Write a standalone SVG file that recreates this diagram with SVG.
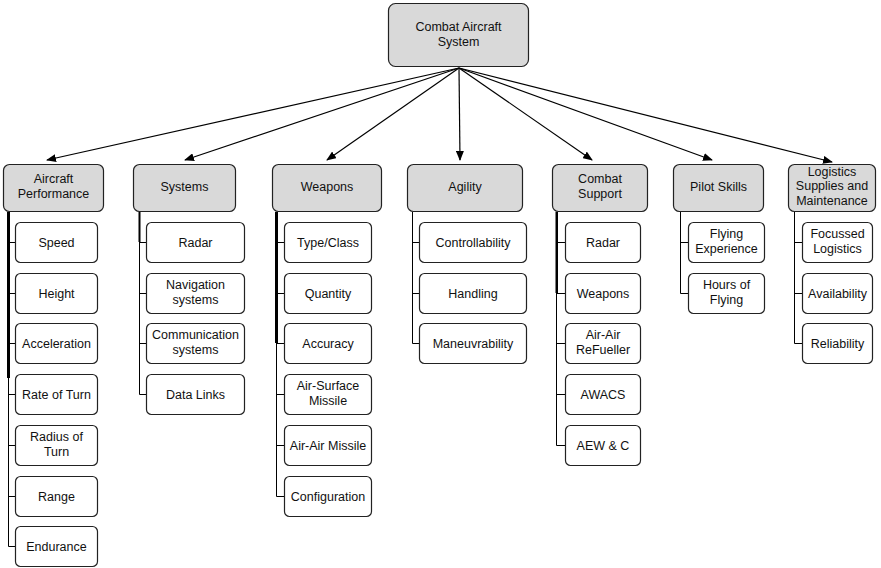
<svg xmlns="http://www.w3.org/2000/svg" width="881" height="568" viewBox="0 0 881 568">
<defs>
<marker id="ah" markerWidth="10" markerHeight="8" refX="9" refY="4" orient="auto" markerUnits="userSpaceOnUse">
<path d="M0,0 L10,4 L0,8 Z" fill="#000"/>
</marker>
<style>
.root rect{fill:#d9d9d9;stroke:#222;stroke-width:1.2}
.cat rect{fill:#d9d9d9;stroke:#222;stroke-width:1.2}
.leaf rect{fill:#fff;stroke:#222;stroke-width:1.2}
text{font-family:"Liberation Sans",Arial,sans-serif;font-size:12.5px;fill:#111;text-anchor:middle}
.conn line{stroke:#000;stroke-width:1.2;marker-end:url(#ah)}
.conn path{stroke:#000;stroke-width:1;fill:none}
.conn rect{fill:#000}
</style>
</defs>
<rect width="881" height="568" fill="#fff"/>
<g class="conn" id="connectors">
<line x1="459" y1="68" x2="47" y2="160"/>
<line x1="459" y1="68" x2="185" y2="160"/>
<line x1="459" y1="68" x2="327" y2="160"/>
<line x1="459" y1="68" x2="460" y2="160"/>
<line x1="459" y1="68" x2="592" y2="160"/>
<line x1="459" y1="68" x2="712" y2="160"/>
<line x1="459" y1="68" x2="832" y2="162"/>
<path d="M8.5,212 V546.5 H15 M8.5,242.5 H15 M8.5,293.5 H15 M8.5,343.5 H15 M8.5,394.5 H15 M8.5,445.5 H15 M8.5,496.5 H15"/>
<rect x="7" y="212" width="3" height="166"/>
<path d="M139.5,212 V394.5 H146 M139.5,242.5 H146 M139.5,293.5 H146 M139.5,343.5 H146"/>
<rect x="138.5" y="212" width="2" height="30"/>
<path d="M276.5,212 V496.5 H284 M276.5,242.5 H284 M276.5,293.5 H284 M276.5,343.5 H284 M276.5,394.5 H284 M276.5,445.5 H284"/>
<rect x="275" y="212" width="3" height="131"/>
<path d="M412.5,212 V343.5 H419 M412.5,242.5 H419 M412.5,293.5 H419"/>
<path d="M556.5,212 V445.5 H565 M556.5,242.5 H565 M556.5,293.5 H565 M556.5,343.5 H565 M556.5,394.5 H565"/>
<rect x="555.5" y="212" width="2.5" height="81"/>
<path d="M680.5,212 V293.5 H688 M680.5,242.5 H688"/>
<path d="M794.5,212 V343.5 H802 M794.5,242.5 H802 M794.5,293.5 H802"/>
</g>
<g class="root" id="combat-aircraft-system"><rect x="388.5" y="3.5" width="140" height="63" rx="7"/><text x="458.5" y="31">Combat Aircraft</text><text x="458.5" y="46">System</text></g>
<g class="cat" id="aircraft-performance"><rect x="3.5" y="164.5" width="100" height="47" rx="6"/><text x="53.5" y="183">Aircraft</text><text x="53.5" y="198">Performance</text></g>
<g class="cat" id="systems"><rect x="133.5" y="164.5" width="102" height="47" rx="6"/><text x="184.5" y="191">Systems</text></g>
<g class="cat" id="weapons"><rect x="272.5" y="164.5" width="109" height="47" rx="6"/><text x="327" y="191">Weapons</text></g>
<g class="cat" id="agility"><rect x="407.5" y="164.5" width="115" height="47" rx="6"/><text x="465" y="191">Agility</text></g>
<g class="cat" id="combat-support"><rect x="552.5" y="164.5" width="95" height="47" rx="6"/><text x="600" y="183">Combat</text><text x="600" y="198">Support</text></g>
<g class="cat" id="pilot-skills"><rect x="673.5" y="164.5" width="90" height="47" rx="6"/><text x="718.5" y="191">Pilot Skills</text></g>
<g class="cat" id="logistics"><rect x="788.5" y="164.5" width="87" height="47" rx="6"/><text x="832" y="176">Logistics</text><text x="832" y="190">Supplies and</text><text x="832" y="205">Maintenance</text></g>

<g class="leaf" id="ap-speed"><rect x="15.5" y="222.5" width="82" height="40" rx="5"/><text x="56.5" y="246.5">Speed</text></g>
<g class="leaf" id="ap-height"><rect x="15.5" y="273.5" width="82" height="40" rx="5"/><text x="56.5" y="297.5">Height</text></g>
<g class="leaf" id="ap-acceleration"><rect x="15.5" y="323.5" width="82" height="40" rx="5"/><text x="56.5" y="347.5">Acceleration</text></g>
<g class="leaf" id="ap-rate-of-turn"><rect x="15.5" y="374.5" width="82" height="40" rx="5"/><text x="56.5" y="398.5">Rate of Turn</text></g>
<g class="leaf" id="ap-radius-of-turn"><rect x="15.5" y="425.5" width="82" height="40" rx="5"/><text x="56.5" y="441">Radius of</text><text x="56.5" y="456">Turn</text></g>
<g class="leaf" id="ap-range"><rect x="15.5" y="476.5" width="82" height="40" rx="5"/><text x="56.5" y="500.5">Range</text></g>
<g class="leaf" id="ap-endurance"><rect x="15.5" y="526.5" width="82" height="40" rx="5"/><text x="56.5" y="550.5">Endurance</text></g>

<g class="leaf" id="sys-radar"><rect x="146.5" y="222.5" width="98" height="40" rx="5"/><text x="195.5" y="246.5">Radar</text></g>
<g class="leaf" id="sys-navigation"><rect x="146.5" y="273.5" width="98" height="40" rx="5"/><text x="195.5" y="289">Navigation</text><text x="195.5" y="304">systems</text></g>
<g class="leaf" id="sys-communication"><rect x="146.5" y="323.5" width="98" height="40" rx="5"/><text x="195.5" y="339">Communication</text><text x="195.5" y="354">systems</text></g>
<g class="leaf" id="sys-datalinks"><rect x="146.5" y="374.5" width="98" height="40" rx="5"/><text x="195.5" y="398.5">Data Links</text></g>

<g class="leaf" id="w-typeclass"><rect x="284.5" y="222.5" width="87" height="40" rx="5"/><text x="328" y="246.5">Type/Class</text></g>
<g class="leaf" id="w-quantity"><rect x="284.5" y="273.5" width="87" height="40" rx="5"/><text x="328" y="297.5">Quantity</text></g>
<g class="leaf" id="w-accuracy"><rect x="284.5" y="323.5" width="87" height="40" rx="5"/><text x="328" y="347.5">Accuracy</text></g>
<g class="leaf" id="w-asm"><rect x="284.5" y="374.5" width="87" height="40" rx="5"/><text x="328" y="390">Air-Surface</text><text x="328" y="405">Missile</text></g>
<g class="leaf" id="w-aam"><rect x="284.5" y="425.5" width="87" height="40" rx="5"/><text x="328" y="449.5">Air-Air Missile</text></g>
<g class="leaf" id="w-config"><rect x="284.5" y="476.5" width="87" height="40" rx="5"/><text x="328" y="500.5">Configuration</text></g>

<g class="leaf" id="ag-control"><rect x="419.5" y="222.5" width="107" height="40" rx="5"/><text x="473" y="246.5">Controllability</text></g>
<g class="leaf" id="ag-handling"><rect x="419.5" y="273.5" width="107" height="40" rx="5"/><text x="473" y="297.5">Handling</text></g>
<g class="leaf" id="ag-maneuv"><rect x="419.5" y="323.5" width="107" height="40" rx="5"/><text x="473" y="347.5">Maneuvrability</text></g>

<g class="leaf" id="cs-radar"><rect x="565.5" y="222.5" width="75" height="40" rx="5"/><text x="603" y="246.5">Radar</text></g>
<g class="leaf" id="cs-weapons"><rect x="565.5" y="273.5" width="75" height="40" rx="5"/><text x="603" y="297.5">Weapons</text></g>
<g class="leaf" id="cs-refueller"><rect x="565.5" y="323.5" width="75" height="40" rx="5"/><text x="603" y="339">Air-Air</text><text x="603" y="354">ReFueller</text></g>
<g class="leaf" id="cs-awacs"><rect x="565.5" y="374.5" width="75" height="40" rx="5"/><text x="603" y="398.5">AWACS</text></g>
<g class="leaf" id="cs-aewc"><rect x="565.5" y="425.5" width="75" height="40" rx="5"/><text x="603" y="449.5">AEW &amp; C</text></g>

<g class="leaf" id="ps-experience"><rect x="688.5" y="222.5" width="76" height="40" rx="5"/><text x="726.5" y="238">Flying</text><text x="726.5" y="253">Experience</text></g>
<g class="leaf" id="ps-hours"><rect x="688.5" y="273.5" width="76" height="40" rx="5"/><text x="726.5" y="289">Hours of</text><text x="726.5" y="304">Flying</text></g>

<g class="leaf" id="lg-focussed"><rect x="802.5" y="222.5" width="70" height="40" rx="5"/><text x="837.5" y="238">Focussed</text><text x="837.5" y="253">Logistics</text></g>
<g class="leaf" id="lg-availability"><rect x="802.5" y="273.5" width="70" height="40" rx="5"/><text x="837.5" y="297.5">Availability</text></g>
<g class="leaf" id="lg-reliability"><rect x="802.5" y="323.5" width="70" height="40" rx="5"/><text x="837.5" y="347.5">Reliability</text></g>
</svg>
